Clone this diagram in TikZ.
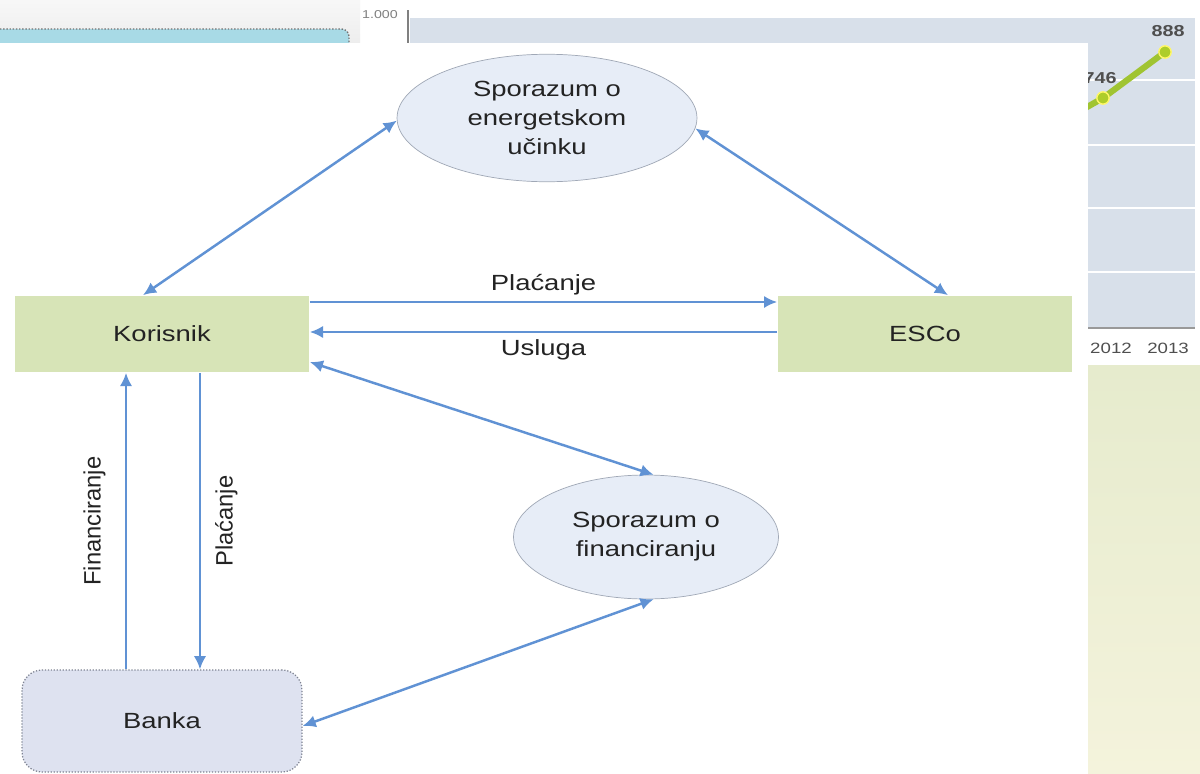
\documentclass[tikz,border=0pt]{standalone}
\usepackage{fontspec}
\setmainfont[FakeStretch=1.25]{Liberation Sans}
\newfontfamily\uprightfont{Liberation Sans}
\usetikzlibrary{shapes.geometric,arrows.meta}

\definecolor{arrowblue}{RGB}{96,146,212}
\definecolor{boxgreen}{RGB}{215,228,183}
\definecolor{ovalfill}{RGB}{231,237,247}
\definecolor{ovalline}{RGB}{160,168,182}
\definecolor{bankfill}{RGB}{222,226,240}
\definecolor{bankline}{RGB}{125,130,145}
\definecolor{txtgrey}{RGB}{35,35,35}
\definecolor{chartfill}{RGB}{216,224,234}
\definecolor{barblue}{RGB}{168,218,230}
\definecolor{linegreen}{RGB}{160,196,50}
\definecolor{meadowtop}{RGB}{230,235,205}
\definecolor{meadowbot}{RGB}{244,243,220}

\begin{document}
\begin{tikzpicture}[x=0.02cm,y=-0.02cm,
	party/.style={fill=boxgreen,minimum width=5.9cm,minimum height=1.54cm,font=\fontsize{12.5}{15}\selectfont,text=txtgrey},
	agreement/.style={ellipse,draw=ovalline,fill=ovalfill,align=center,inner sep=0pt,font=\fontsize{12.5}{16.5}\selectfont,text=txtgrey},
	flow/.style={draw=arrowblue,line width=1.4pt,-{Latex[length=7.5pt,width=7pt]}},
	both/.style={flow,{Latex[length=7.5pt,width=7pt]}-{Latex[length=7.5pt,width=7pt]}},
	lbl/.style={font=\fontsize{12.5}{15}\selectfont,text=txtgrey},
	vlbl/.style={font=\uprightfont\fontsize{13.5}{15}\selectfont,text=txtgrey,rotate=90},
	chartlbl/.style={font=\fontsize{8.5}{10}\selectfont,text=txtgrey!80}]
	\useasboundingbox (0,0) rectangle (1200,774);
	% background behind the diagram
	\fill[white] (0,0) rectangle (1200,774);
	\shade[top color=gray!6,bottom color=gray!14] (0,0) rectangle (360,43);
	\draw[densely dotted,draw=black!55,fill=barblue,line width=0.8pt,rounded corners=0.15cm] (-20,29) rectangle (349,70);
	\fill[chartfill] (410,18) rectangle (1195,328);
	\foreach \y in {80,145,208,272}
		\draw[white,line width=1pt] (410,\y) -- (1195,\y);
	\draw[gray,line width=1.2pt] (408,10) -- (408,45);
	\draw[gray!80,line width=0.8pt] (1060,328) -- (1195,328);
	\node[font=\fontsize{6.5}{8}\selectfont,text=gray] at (380,15) {1.000};
	\shade[top color=meadowtop,bottom color=meadowbot] (1088,365) rectangle (1200,774);
	\draw[linegreen,line width=3.5pt,line cap=round] (1050,128) -- (1103,98) -- (1165,52);
	\filldraw[fill=linegreen!85!yellow,draw=yellow!60!white,line width=0.8pt] (1103,98) circle (3.5pt) (1165,52) circle (3.5pt);
	\node[chartlbl,font=\fontsize{9}{10}\bfseries] at (1168,31) {888};
	\node[chartlbl,font=\fontsize{9}{10}\bfseries] at (1100,78) {746};
	\node[chartlbl] at (1111,348) {2012};
	\node[chartlbl] at (1168,348) {2013};
	\fill[white] (0,43) rectangle (1088,774);

	% parties
	\node[party] (korisnik) at (162,334) {Korisnik};
	\node[party] (esco) at (925,334) {ESCo};
	\node[draw=bankline,densely dotted,line width=0.7pt,fill=bankfill,rounded corners=0.4cm,minimum width=5.6cm,minimum height=2.04cm,font=\fontsize{12.5}{15}\selectfont,text=txtgrey] (banka) at (162,721) {Banka};
	% agreements
	\node[agreement,minimum width=6cm,minimum height=2.55cm] (sporEn) at (547,118) {Sporazum o\\energetskom\\učinku};
	\node[agreement,minimum width=5.3cm,minimum height=2.48cm] (sporFin) at (646,537) {Sporazum o\\financiranju};

	% flows
	\draw[both] ([xshift=-0.38cm]korisnik.north) -- (sporEn.181);
	\draw[both] ([xshift=0.46cm]esco.north) -- (sporEn.-4);
	\draw[flow] ([yshift=0.64cm]korisnik.east) -- node[lbl,above]{Plaćanje} ([yshift=0.64cm]esco.west);
	\draw[flow] ([yshift=0.04cm]esco.west) -- node[lbl,below]{Usluga} ([yshift=0.04cm]korisnik.east);
	\draw[both] ([yshift=-0.56cm]korisnik.east) -- (sporFin.83);
	\draw[both] ([yshift=-0.1cm]banka.east) -- (sporFin.-83);
	\draw[flow] ([xshift=-0.72cm]banka.north) -- node[vlbl,midway,anchor=south,inner ysep=11pt]{Financiranje} ([xshift=-0.72cm]korisnik.south);
	\draw[flow] ([xshift=0.76cm]korisnik.south) -- node[vlbl,midway,anchor=north,inner ysep=8pt]{Plaćanje} ([xshift=0.76cm]banka.north);
\end{tikzpicture}
\end{document}
